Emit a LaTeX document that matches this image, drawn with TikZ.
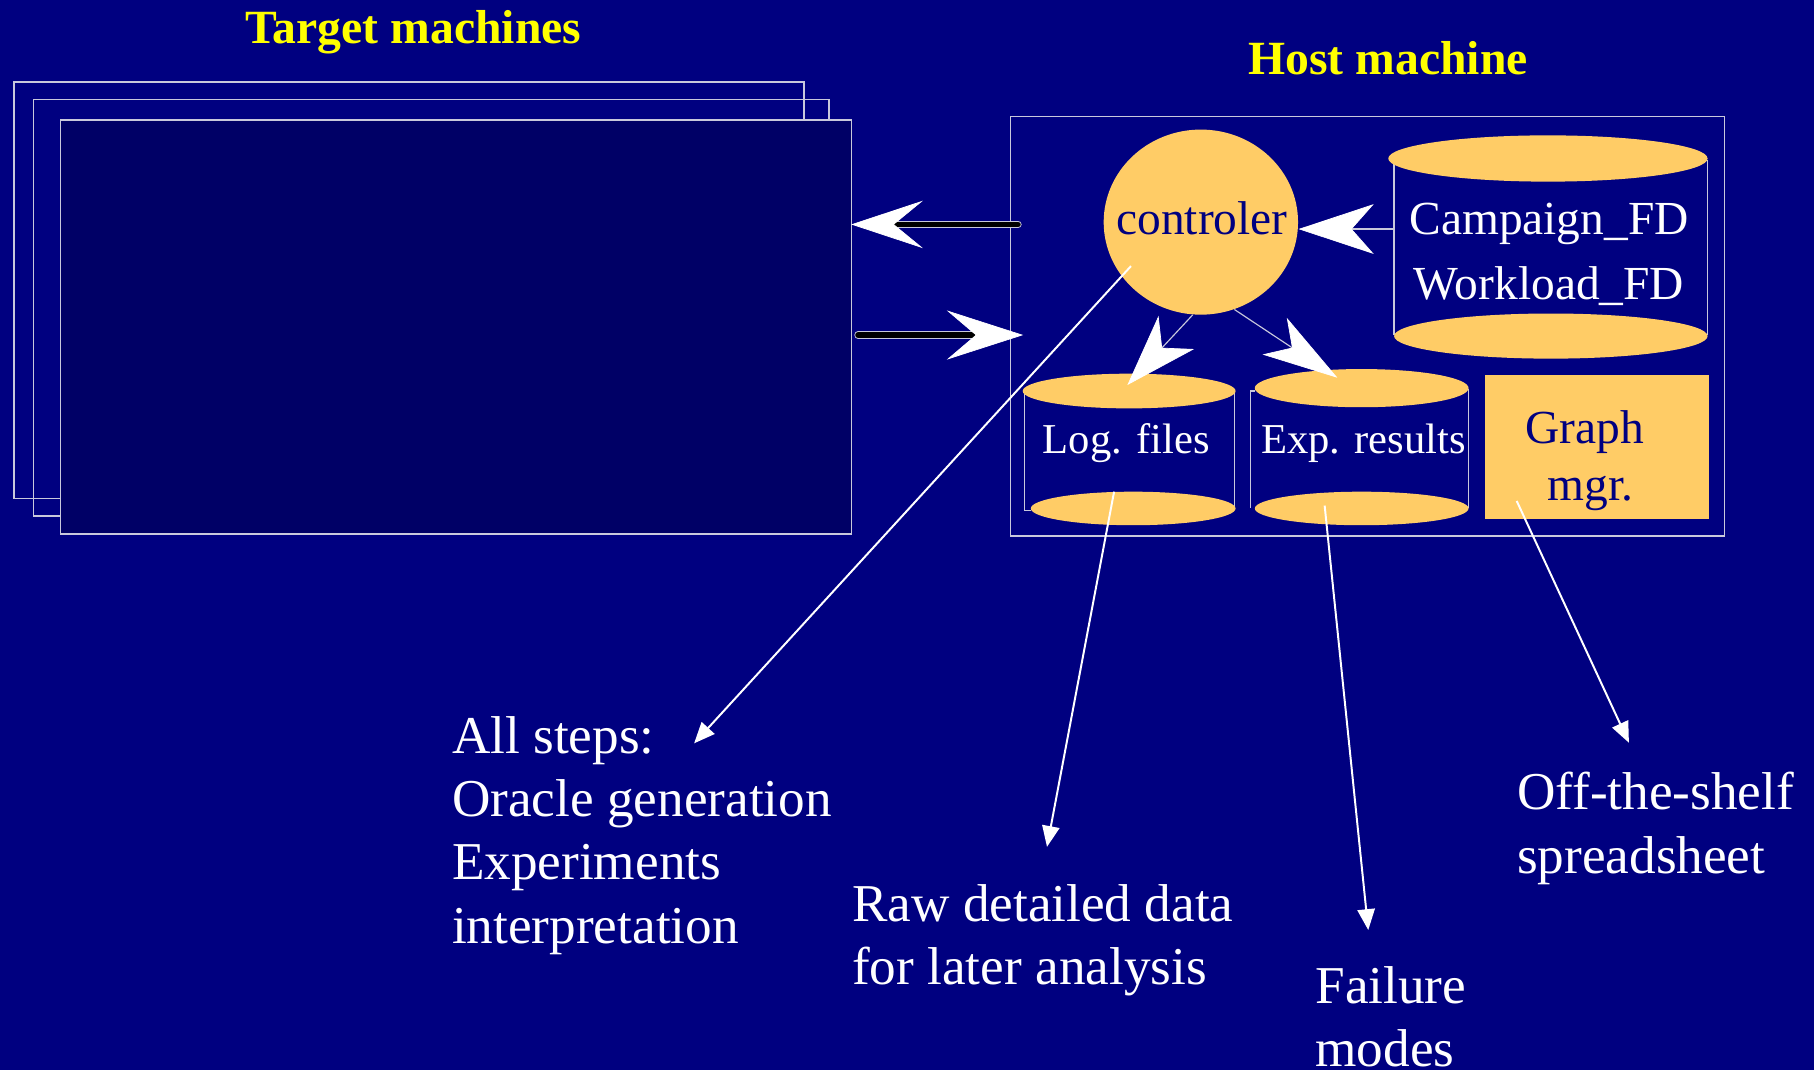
\documentclass[tikz,border=0pt]{standalone}
\usepackage{fontspec}
\setmainfont{Liberation Serif}
\usetikzlibrary{arrows.meta,shapes.geometric,calc}
\definecolor{bgnavy}{RGB}{0,0,128}
\definecolor{deepnavy}{RGB}{0,0,102}
\definecolor{peach}{RGB}{255,204,102}
\definecolor{edgegray}{RGB}{200,200,220}
\definecolor{titleyellow}{RGB}{255,255,0}
\begin{document}
\begin{tikzpicture}[x=0.5pt,y=-0.5pt,
  tbox/.style={draw=edgegray, line width=0.75pt},
  hostbox/.style={draw=edgegray, line width=0.6pt, inner sep=0},
  sideline/.style={draw=edgegray, line width=0.5pt},
  titletext/.style={text=titleyellow, font=\fontsize{20.6}{24}\selectfont\bfseries, inner sep=0},
  lowtext/.style={text=white, font=\fontsize{23}{27.4}\selectfont, align=left, inner sep=0},
  hosttext/.style={font=\fontsize{20.5}{27.75}\selectfont, inner sep=0},
  smalltext/.style={text=white, font=\fontsize{18.4}{22}\selectfont, inner sep=0},
  thinline/.style={draw=edgegray, line width=0.5pt},
  longarrow/.style={draw=white, line width=0.85pt, -{Triangle[length=9pt,width=7.5pt]}},
  shaftout/.style={draw=edgegray, line width=3.3pt, line cap=round},
  shaftin/.style={draw=black, line width=2.5pt, line cap=round}
]
\useasboundingbox (0,0) rectangle (1568,925);
\fill[bgnavy] (0,0) rectangle (1568,925);

% target machines
\draw[tbox] (12,70.6) rectangle (695,431);
\draw[tbox] (29,85.9) rectangle (716.5,446);
\node[tbox, fill=deepnavy, inner sep=0, minimum width=341.8pt, minimum height=178.95pt] (front) at (394.2,282.65) {};
\node[titletext, anchor=base] (ttltarget) at (357.3,37.5) {Target machines};

% host machine
\node[hostbox, minimum width=308.55pt, minimum height=181.2pt] (host) at (1181.95,282.1) {};
\node[titletext, anchor=base] (ttlhost) at (1199.9,64.8) {Host machine};

% Campaign cylinder
\draw[sideline] (1205,141) -- (1205,290);
\draw[sideline] (1476,138) -- (1476,290);
\fill[peach] (1338,137) ellipse [x radius=138, y radius=20];
\fill[peach] (1340.5,290.5) ellipse [x radius=135.5, y radius=19.5];
\node[hosttext, text=white, anchor=base, align=center] (camp) at (1339,258.5) {Campaign\_FD\\Workload\_FD};

% Log files cylinder
\draw[sideline] (885.6,341) -- (885.6,441) -- (891,441);
\draw[sideline] (1067,338) -- (1067,439);
\fill[peach] (976,338) ellipse [x radius=92, y radius=15];
\fill[peach] (979.5,439.5) ellipse [x radius=88.5, y radius=14.5];
\node[smalltext, anchor=base] (logtxt) at (973.5,392.4) {Log. files};

% Exp results cylinder
\draw[sideline] (1084.6,338) -- (1080.6,338) -- (1080.6,439);
\draw[sideline] (1269.4,336) -- (1269.4,439);
\fill[peach] (1177,335.5) ellipse [x radius=92.4, y radius=16.5];
\fill[peach] (1177,439.5) ellipse [x radius=92.4, y radius=14.5];
\node[smalltext, anchor=base] (exptxt) at (1178.5,392.4) {Exp. results};

% Graph mgr
\node[fill=peach, inner sep=0, minimum width=96.85pt, minimum height=62.25pt] (graph) at (1380.15,386.65) {};
\node[hosttext, text=bgnavy, anchor=base, align=center, font=\fontsize{20.5}{24.5}\selectfont] (graphtxt) at (1370,432.2) {Graph\\\hspace*{5pt}mgr.};

% controller
\node[ellipse, fill=peach, inner sep=0, minimum width=84pt, minimum height=80pt] (ctrl) at (1038,192) {};
\node[hosttext, text=bgnavy, anchor=base] (ctrltxt) at (1039,203.1) {controler};

% lower texts (base anchor = baseline of last line)
\node[lowtext, anchor=base west] (steps) at (390.4,815.4) {All steps:\\Oracle generation\\Experiments\\interpretation};
\node[lowtext, anchor=base west] (raw) at (736.2,851.4) {Raw detailed data\\for later analysis};
\node[lowtext, anchor=base west] (fail) at (1136.7,922) {Failure\\modes};
\node[lowtext, anchor=base west] (shelf) at (1311,754.9) {Off-the-shelf\\spreadsheet};

% arrows host <-> target
\coordinate (ya) at (0,194);
\coordinate (yb) at (0,289.6);
\draw[shaftout] ($(host.west |- ya)+(7,0)$) -- ($(front.east |- ya)+(40,0)$);
\draw[shaftin, -{Stealth[length=31pt,width=20.5pt,inset=12.5pt,color=white,line width=0.3pt]}] ($(host.west |- ya)+(7,0)$) -- ($(front.east |- ya)+(-1,0)$);
\draw[shaftout] ($(front.east |- yb)+(5,0)$) -- ($(host.west |- yb)+(-30,0)$);
\draw[shaftin, -{Stealth[length=33pt,width=21.25pt,inset=12.5pt,color=white,line width=0.3pt]}] ($(front.east |- yb)+(5,0)$) -- ($(host.west |- yb)+(11.6,0)$);

% campaign -> controller
\coordinate (campL) at (1205,198);
\draw[thinline, -{Stealth[length=32.5pt,width=21.5pt,inset=9.5pt,color=white,line width=0.3pt]}] (campL) -- (ctrl.east |- campL);

% controller -> cylinders
\coordinate (logtip) at (974.5,332.8);
\coordinate (exptip) at (1156,326.5);
\draw[thinline, -{Stealth[length=31pt,width=21pt,inset=9pt,color=white,line width=0.3pt]}] (ctrl.-95) -- (logtip);
\draw[thinline, -{Stealth[length=32.5pt,width=19pt,inset=9pt,color=white,line width=0.3pt]}] (ctrl.-69) -- (exptip);

% long annotation arrows
\coordinate (s1) at ($(ctrl.center)+(-60.4,38)$);
\coordinate (e1) at (600,642.5);
\draw[longarrow] (s1) -- (e1);
\coordinate (s2) at ($(logtxt.base)+(-10.5,32.6)$);
\coordinate (e2) at (905,732);
\draw[longarrow] (s2) -- (e2);
\coordinate (s3) at ($(exptxt.base)+(-33.5,44.6)$);
\coordinate (e3) at (1182.7,803.9);
\draw[longarrow] (s3) -- (e3);
\coordinate (s4) at ($(graph.center)+(-69.15,46.35)$);
\coordinate (e4) at (1408,642);
\draw[longarrow] (s4) -- (e4);
\end{tikzpicture}
\end{document}
